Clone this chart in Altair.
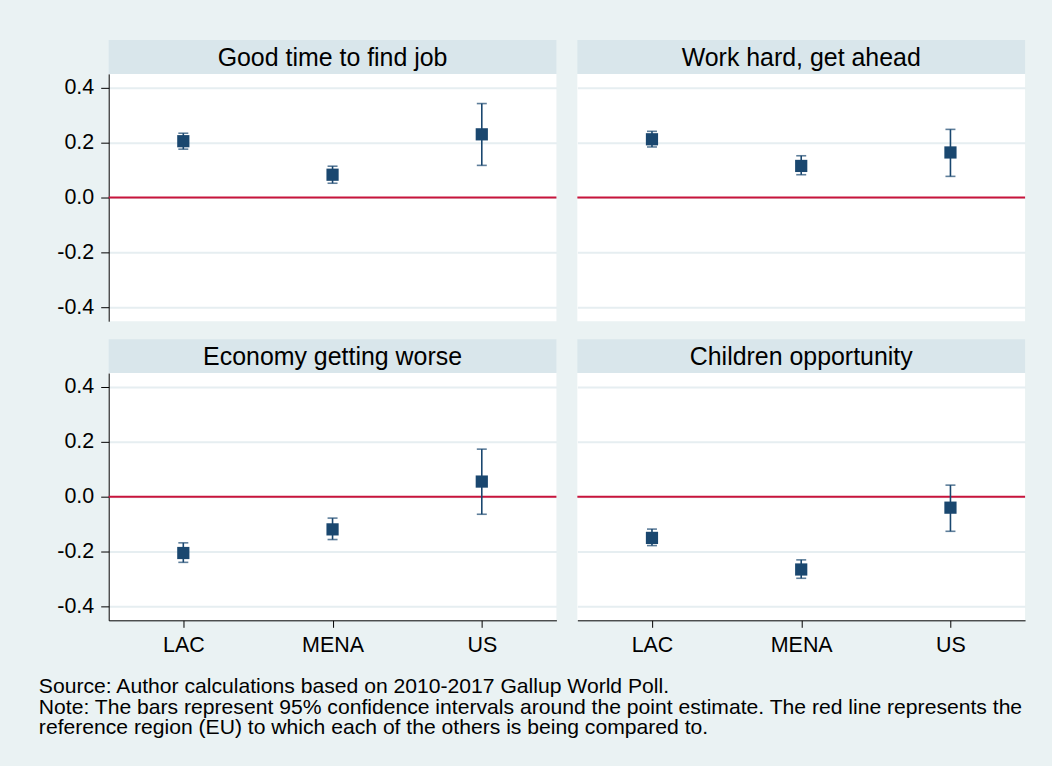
import altair as alt
import pandas as pd

# ---- data ----
panels = ["Good time to find job", "Work hard, get ahead",
          "Economy getting worse", "Children opportunity"]
regions = ["LAC", "MENA", "US"]
estimates = [
    [0.205, 0.083, 0.230],
    [0.212, 0.115, 0.164],
    [-0.205, -0.119, 0.055],
    [-0.150, -0.265, -0.040],
]
lower = [
    [0.176, 0.052, 0.117],
    [0.184, 0.083, 0.077],
    [-0.239, -0.156, -0.064],
    [-0.178, -0.297, -0.126],
]
upper = [
    [0.234, 0.114, 0.342],
    [0.241, 0.152, 0.248],
    [-0.168, -0.078, 0.173],
    [-0.118, -0.230, 0.042],
]
y_ticks = [-0.4, -0.2, 0.0, 0.2, 0.4]
ref_line = [0.0]
caption = [
    "Source: Author calculations based on 2010-2017 Gallup World Poll.",
    "Note: The bars represent 95% confidence intervals around the point estimate. The red line represents the",
    "reference region (EU) to which each of the others is being compared to.",
]

# ---- styling ----
W, H, HEAD = 449, 248, 34
NAVY = "#1A476F"
RED = "#C8143C"
BG = "#EAF2F3"
HEADBG = "#D9E6EB"
GRID = "#E6EEF1"
FONT = "Liberation Sans"
LABEL_EXPR = "(datum.value < -0.0001 ? '-' : '') + format(abs(datum.value), '.1f')"


def panel(i, show_x, show_y):
    df = pd.DataFrame({"region": regions, "est": estimates[i],
                       "lo": lower[i], "hi": upper[i]})
    head = pd.DataFrame({"title": [panels[i]]})
    ref = pd.DataFrame({"ref": ref_line})

    xscale = alt.Scale(type="point", domain=regions, padding=0.5)
    yscale = alt.Scale(domain=[-0.45, 0.45], nice=False, zero=False)
    if show_x:
        xaxis = alt.Axis(title=None, labelAngle=0, grid=False, domain=True,
                         domainColor="black", domainWidth=1, ticks=True,
                         tickColor="black", tickSize=7, labelFontSize=21.5,
                         labelPadding=7, labelColor="black", labelFont=FONT)
    else:
        xaxis = None
    if show_y:
        yaxis = alt.Axis(title=None, values=y_ticks, labelExpr=LABEL_EXPR,
                         grid=True, gridColor=GRID, gridWidth=2, domain=True,
                         domainColor="black", domainWidth=1, ticks=True,
                         tickColor="black", tickSize=8, labelFontSize=21.5,
                         labelPadding=7, labelColor="black", labelFont=FONT)
    else:
        yaxis = alt.Axis(title=None, values=y_ticks, grid=True, gridColor=GRID,
                         gridWidth=2, labels=False, ticks=False, domain=False)

    X = alt.X("region:N", scale=xscale, axis=xaxis, sort=regions)

    header_rect = alt.Chart(head).mark_rect(color=HEADBG).encode(
        x=alt.value(0), x2=alt.value(W), y=alt.value(-HEAD), y2=alt.value(0))
    header_text = alt.Chart(head).mark_text(
        fontSize=25, font=FONT, color="black", baseline="alphabetic",
        align="center"
    ).encode(x=alt.value(W / 2), y=alt.value(-8), text="title:N")

    redline = alt.Chart(ref).mark_rule(color=RED, strokeWidth=2).encode(
        y=alt.Y("ref:Q", scale=yscale, axis=yaxis))

    bars = alt.Chart(df).mark_rule(color=NAVY, strokeWidth=1.6).encode(
        x=X, y=alt.Y("lo:Q", scale=yscale, axis=yaxis), y2="hi:Q")
    cap_lo = alt.Chart(df).mark_tick(color=NAVY, size=10, thickness=1.6).encode(
        x=X, y=alt.Y("lo:Q", scale=yscale, axis=yaxis))
    cap_hi = alt.Chart(df).mark_tick(color=NAVY, size=10, thickness=1.6).encode(
        x=X, y=alt.Y("hi:Q", scale=yscale, axis=yaxis))
    pts = alt.Chart(df).mark_square(color=NAVY, size=150, opacity=1).encode(
        x=X, y=alt.Y("est:Q", scale=yscale, axis=yaxis))

    return alt.layer(redline, bars, cap_lo, cap_hi, pts,
                     header_rect, header_text).properties(width=W, height=H)


row1 = alt.hconcat(panel(0, False, True), panel(1, False, False), spacing=19)
row2 = alt.hconcat(panel(2, True, True), panel(3, True, False), spacing=19)

chart = alt.vconcat(row1, row2, spacing=18).properties(
    title=alt.TitleParams(text=caption, orient="bottom", anchor="start",
                          frame="bounds", fontSize=21.2, font=FONT,
                          fontWeight="normal", color="black", lineHeight=21,
                          offset=20, dx=-18),
    background=BG,
    padding={"left": 38, "top": 39, "right": 26, "bottom": 26},
).configure_view(fill="white", stroke=None)

chart.save("out.html", embed_options={"renderer": "svg", "actions": False})
